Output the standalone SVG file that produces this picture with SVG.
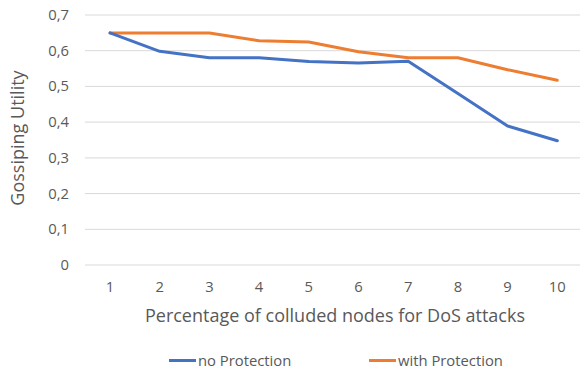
<svg xmlns="http://www.w3.org/2000/svg" width="580" height="373" viewBox="0 0 580 373">
<style>
.t{font-family:"Open Sans","Liberation Sans",sans-serif;fill:#595959}
.tick{font-size:14.8px}
.grid{stroke:#d9d9d9;stroke-width:1}
.s{fill:none;stroke-width:3;stroke-linejoin:round;stroke-linecap:round}
</style>
<rect width="580" height="373" fill="#fff"/>
<g id="grid">
<line class="grid" x1="85" y1="265" x2="580" y2="265"/>
<line class="grid" x1="85" y1="229.3" x2="580" y2="229.3"/>
<line class="grid" x1="85" y1="193.6" x2="580" y2="193.6"/>
<line class="grid" x1="85" y1="157.9" x2="580" y2="157.9"/>
<line class="grid" x1="85" y1="122.1" x2="580" y2="122.1"/>
<line class="grid" x1="85" y1="86.4" x2="580" y2="86.4"/>
<line class="grid" x1="85" y1="50.7" x2="580" y2="50.7"/>
<line class="grid" x1="85" y1="15" x2="580" y2="15"/>
</g>
<g id="yticks" class="t tick" text-anchor="end">
<text x="69" y="270">0</text>
<text x="69" y="234.3">0,1</text>
<text x="69" y="198.6">0,2</text>
<text x="69" y="162.9">0,3</text>
<text x="69" y="127.1">0,4</text>
<text x="69" y="91.4">0,5</text>
<text x="69" y="55.7">0,6</text>
<text x="69" y="20">0,7</text>
</g>
<g id="xticks" class="t tick" text-anchor="middle">
<text x="110" y="292">1</text>
<text x="159.7" y="292">2</text>
<text x="209.4" y="292">3</text>
<text x="259.1" y="292">4</text>
<text x="308.8" y="292">5</text>
<text x="358.5" y="292">6</text>
<text x="408.2" y="292">7</text>
<text x="457.9" y="292">8</text>
<text x="507.6" y="292">9</text>
<text x="557.3" y="292">10</text>
</g>
<g id="connectors">
<polyline id="with-protection" class="s" stroke="#ed7d31" points="110,32.9 159.7,32.9 209.4,32.9 259.1,40.7 308.8,42 358.5,51.7 408.2,57.7 457.9,57.7 507.6,69.7 557.3,80.3"/>
<polyline id="no-protection" class="s" stroke="#4472c4" points="110,32.9 159.7,51.3 209.4,57.7 259.1,57.7 308.8,61.6 358.5,63 408.2,61.3 457.9,93.5 507.6,126 557.3,140.7"/>
</g>
<g id="y-title"><text class="t" font-size="18" text-anchor="middle" transform="translate(24,138) rotate(-90)">Gossiping Utility</text></g>
<g id="x-title"><text class="t" font-size="18" x="335" y="322" text-anchor="middle">Percentage of colluded nodes for DoS attacks</text></g>
<g id="legend">
<g id="legend-no"><line x1="169" y1="360.5" x2="196" y2="360.5" stroke="#4472c4" stroke-width="3"/><text class="t" font-size="14.8" x="198" y="365.5">no Protection</text></g>
<g id="legend-with"><line x1="369" y1="360.5" x2="396" y2="360.5" stroke="#ed7d31" stroke-width="3"/><text class="t" font-size="14.8" x="398" y="365.5">with Protection</text></g>
</g>
</svg>
